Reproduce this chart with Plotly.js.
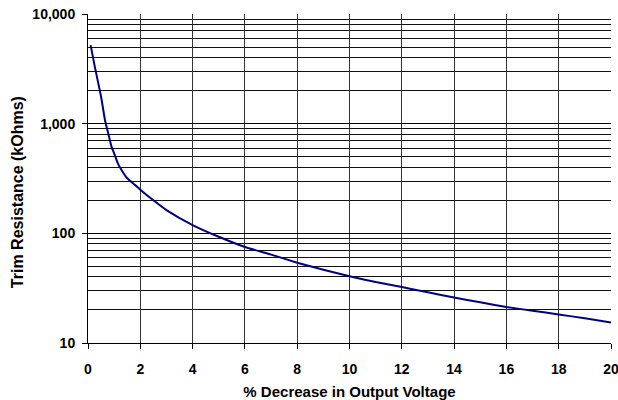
<!DOCTYPE html>
<html>
<head>
<meta charset="utf-8">
<script src="https://cdn.plot.ly/plotly-3.0.1.min.js"></script>
<style>html,body{margin:0;padding:0;background:#fff;}#chart{width:618px;height:400px;}</style>
</head>
<body>
<div id="chart"></div>
<script>
var decreasePct = [0.1, 0.25, 0.5, 0.65, 0.75, 0.9, 1.0, 1.15, 1.3, 1.5, 1.75, 2, 2.5, 3, 4, 5, 6, 7, 8, 9, 10, 11, 12, 13, 14, 15, 16, 17, 18, 19, 20];
var trimKOhms  = [5200, 3400, 1760, 1076, 860, 614, 535, 430, 372, 318, 282, 250, 200, 163, 119, 93, 75, 64, 54, 46.5, 40.6, 36, 32.4, 29, 26, 23.5, 21.3, 19.7, 18.2, 16.8, 15.4];
var yTickVals = [10, 100, 1000, 10000];
var yTickText = ['10', '100', '1,000', '10,000'];
var xTickVals = [0, 2, 4, 6, 8, 10, 12, 14, 16, 18, 20];

var family = 'Arial, "Liberation Sans", sans-serif';
var tickFont = {family: family, size: 14, color: '#000', weight: 'bold'};
var xTitleFont = {family: family, size: 15, color: '#000', weight: 'bold'};
var yTitleFont = {family: family, size: 16, color: '#000', weight: 'bold'};

var trace = {
  x: decreasePct, y: trimKOhms, type: 'scatter', mode: 'lines',
  line: {color: '#000080', width: 2, shape: 'spline', smoothing: 0.5},
  hoverinfo: 'skip'
};

var layout = {
  width: 618, height: 400,
  margin: {l: 88, r: 7, t: 14, b: 57, pad: 0},
  paper_bgcolor: '#fff', plot_bgcolor: '#fff',
  showlegend: false,
  font: tickFont,
  xaxis: {
    range: [0, 20], tickvals: xTickVals, ticks: 'outside', ticklen: 5, tickcolor: '#000',
    showgrid: true, gridcolor: '#333', gridwidth: 1,
    showline: true, linecolor: '#000', linewidth: 1,
    zeroline: false, tickfont: tickFont, ticklabelstandoff: 8,
    ticklabeloverflow: 'allow',
    title: {text: '% Decrease in Output Voltage', font: xTitleFont, standoff: 13},
    automargin: false, fixedrange: true
  },
  yaxis: {
    type: 'log', range: [1, 4], tickvals: yTickVals, ticktext: yTickText,
    ticks: 'outside', ticklen: 5, tickcolor: '#000',
    showgrid: true, gridcolor: '#000', gridwidth: 1,
    minor: {dtick: 'D1', showgrid: true, gridcolor: '#111', gridwidth: 1, ticks: ''},
    showline: true, linecolor: '#000', linewidth: 1,
    zeroline: false, tickfont: tickFont, ticklabelstandoff: 4,
    automargin: false, fixedrange: true
  },
  annotations: [{
    text: 'Trim Resistance (kOhms)', font: yTitleFont, textangle: -90,
    xref: 'paper', yref: 'paper', x: -0.1358, y: 0.4585,
    xanchor: 'center', yanchor: 'middle', showarrow: false
  }]
};

Plotly.newPlot('chart', [trace], layout, {staticPlot: true, displayModeBar: false});
</script>
</body>
</html>
